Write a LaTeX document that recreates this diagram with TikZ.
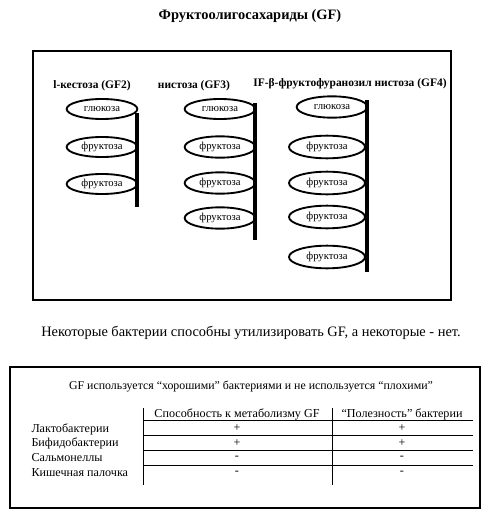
\documentclass[tikz,border=0pt]{standalone}
\usepackage{fontspec}
\setmainfont{Liberation Serif}
\usetikzlibrary{shapes.geometric}

\tikzset{every picture/.style={line width=0.75pt}}
\tikzset{
  sugar/.style={draw, ellipse, line width=1.4pt, minimum width=53pt, minimum height=15pt, inner sep=0pt, font=\fontsize{8}{9}\selectfont},
  bigsugar/.style={sugar, minimum width=57pt, minimum height=17pt},
  chainbar/.style={line width=3pt},
  grouplabel/.style={inner sep=0.75pt, font=\bfseries\fontsize{8.6}{10}\selectfont},
  cell/.style={inner sep=0.75pt, font=\fontsize{9.1}{11}\selectfont},
  frame/.style={line width=1.5pt},
}

\begin{document}
\begin{tikzpicture}[x=0.75pt,y=0.75pt,yscale=-1,xscale=1]
\useasboundingbox (0,0) rectangle (500,514);

% Text Node
\draw (250,16) node [inner sep=0.75pt, font=\bfseries\fontsize{10.8}{13}\selectfont] (title) {Фруктоолигосахариды (GF)};

%Shape: Rectangle
\draw [frame] (33,51) -- (451,51) -- (451,300) -- (33,300) -- cycle ;

% Text Node
\draw (92,86) node [grouplabel] (gf2) {l-кестоза (GF2)};
% Text Node
\draw (194,86) node [grouplabel] (gf3) {нистоза (GF3)};
% Text Node
\draw (350,84) node [grouplabel] (gf4) {IF-β-фруктофуранозил нистоза (GF4)};

%Ellipses GF2
\draw (102,109) node [sugar] (gf2a) {глюкоза};
\draw (102,147) node [sugar] (gf2b) {фруктоза};
\draw (102,184) node [sugar] (gf2c) {фруктоза};
\draw [chainbar] (137,113) -- (137,207) ;

%Ellipses GF3
\draw (220,109) node [sugar] (gf3a) {глюкоза};
\draw (220,147) node [sugar, minimum height=16pt] (gf3b) {фруктоза};
\draw (220,183) node [sugar, minimum height=16pt] (gf3c) {фруктоза};
\draw (220,218) node [sugar, minimum height=16pt] (gf3d) {фруктоза};
\draw [chainbar] (255,103) -- (255,240) ;

%Ellipses GF4
\draw (332,107) node [sugar, minimum height=16pt] (gf4a) {глюкоза};
\draw (327,147) node [bigsugar] (gf4b) {фруктоза};
\draw (327,183) node [bigsugar] (gf4c) {фруктоза};
\draw (327,217) node [bigsugar] (gf4d) {фруктоза};
\draw (327,257) node [bigsugar] (gf4e) {фруктоза};
\draw [chainbar] (367,100) -- (367,272) ;

% Text Node
\draw (251,333) node [inner sep=0.75pt, font=\fontsize{10.8}{13}\selectfont] (note) {Некоторые бактерии способны утилизировать GF, а некоторые - нет.};

%Shape: Rectangle
\draw [frame] (10,367) -- (480,367) -- (480,508) -- (10,508) -- cycle ;

% Text Node
\draw (251,387) node [cell, font=\fontsize{8.9}{11}\selectfont] (head) {GF используется “хорошими” бактериями и не используется “плохими”};

%Table lines
\draw (143,408) -- (143,485) ;
\draw (332,408) -- (332,485) ;
\draw (143,420) -- (473,420) ;
\draw (143,435) -- (473,435) ;
\draw (143,450) -- (473,450) ;
\draw (143,465) -- (473,465) ;

% Text Node
\draw (237,414) node [cell] (colA) {Способность к метаболизму GF};
\draw (402,414) node [cell] (colB) {“Полезность” бактерии};

% Text Node
\draw (30,429) node [cell, anchor=west] (rowA) {Лактобактерии};
\draw (30,443) node [cell, anchor=west] (rowB) {Бифидобактерии};
\draw (30,458) node [cell, anchor=west] (rowC) {Сальмонеллы};
\draw (30,473) node [cell, anchor=west] (rowD) {Кишечная палочка};

% Text Node
\draw (237,428) node [cell] (a1) {+};
\draw (402,428) node [cell] (b1) {+};
\draw (237,443) node [cell] (a2) {+};
\draw (402,443) node [cell] (b2) {+};
\draw (237,458) node [cell] (a3) {-};
\draw (402,458) node [cell] (b3) {-};
\draw (237,473) node [cell] (a4) {-};
\draw (402,473) node [cell] (b4) {-};

\end{tikzpicture}
\end{document}
